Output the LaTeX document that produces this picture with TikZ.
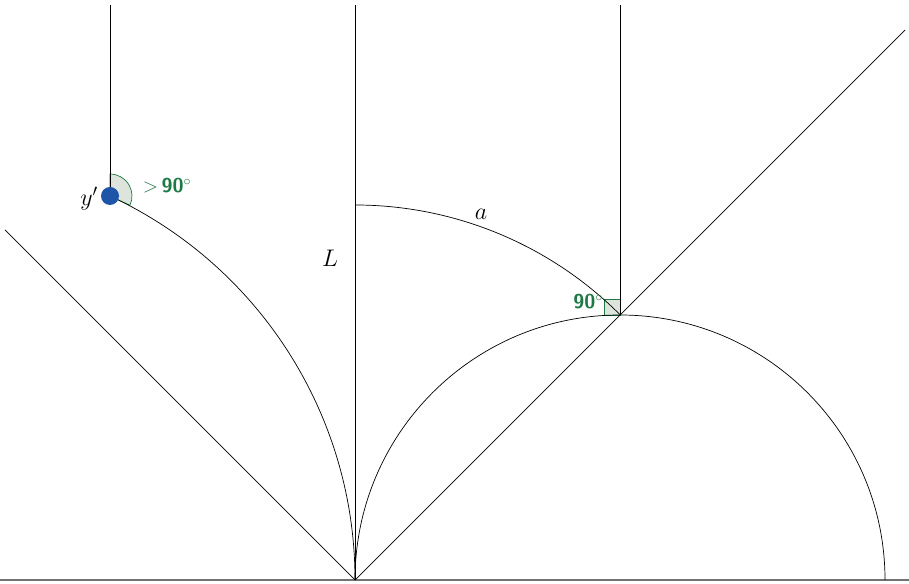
\RequirePackage{fix-cm}
\documentclass[tikz,border=0pt]{standalone}
\usepackage{xcolor}
\usepackage{amsmath}
\usepackage{tikz}
\usetikzlibrary{positioning}
\definecolor{mossgreen}{HTML}{1E7A45}
\definecolor{mossfill}{HTML}{DCE4DC}
\definecolor{pointblue}{HTML}{1F55A8}

\begin{document}
\begin{tikzpicture}[x=1pt,y=1pt]
\useasboundingbox (0,0) rectangle (909,583);
\coordinate (o) at (355,3);
\coordinate (p) at (620,268);
\coordinate (yp) at (110,387);
\coordinate (top) at (355,578);
\coordinate (ptop) at (620,578);
\coordinate (ytop) at (110,578);
\coordinate (ne) at (905,553);
\coordinate (nw) at (5,353);
\coordinate (w) at (0,3);
\coordinate (e) at (909,3);
% angle marks
\filldraw[draw=mossgreen,fill=mossfill,line width=0.7pt] (yp) -- ++(90:22) arc[start angle=90,end angle=-25,radius=22] -- cycle;
\filldraw[draw=mossgreen,fill=mossfill,line width=0.7pt] (p) rectangle ++(-16,16);
% straight lines
\draw[black!55,line width=1.2pt] (w) -- (e);
\draw[line width=0.7pt] (o) -- (top);
\draw[line width=0.7pt] (p) -- (ptop);
\draw[line width=0.7pt] (yp) -- (ytop);
\draw[line width=0.7pt] (o) -- (ne);
\draw[line width=0.7pt] (o) -- (nw);
% arcs
\draw[line width=0.7pt] (o) arc[start angle=180,end angle=0,radius=265];
\draw[line width=0.7pt] (355,378) arc[start angle=90,end angle=45,radius=375];
\draw[line width=0.7pt] (yp) arc[start angle=65.08,end angle=0,radius=423.4];
\fill[pointblue] (yp) circle (9);
% labels
\node[font=\fontsize{24}{28}\selectfont] (ylab) at (89,384) {$y'$};
\node[font=\fontsize{24}{28}\selectfont] (llab) at (330,325) {$L$};
\node[font=\fontsize{24}{28}\selectfont] (alab) at (481,369) {$a$};
\node[font=\fontsize{20}{24}\selectfont\sffamily\bfseries,text=mossgreen] (obtuse) at (167,397) {$>$\,90$^\circ$};
\node[font=\fontsize{20}{24}\selectfont\sffamily\bfseries,text=mossgreen] (right) at (588,281) {90$^\circ$};
\end{tikzpicture}
\end{document}
